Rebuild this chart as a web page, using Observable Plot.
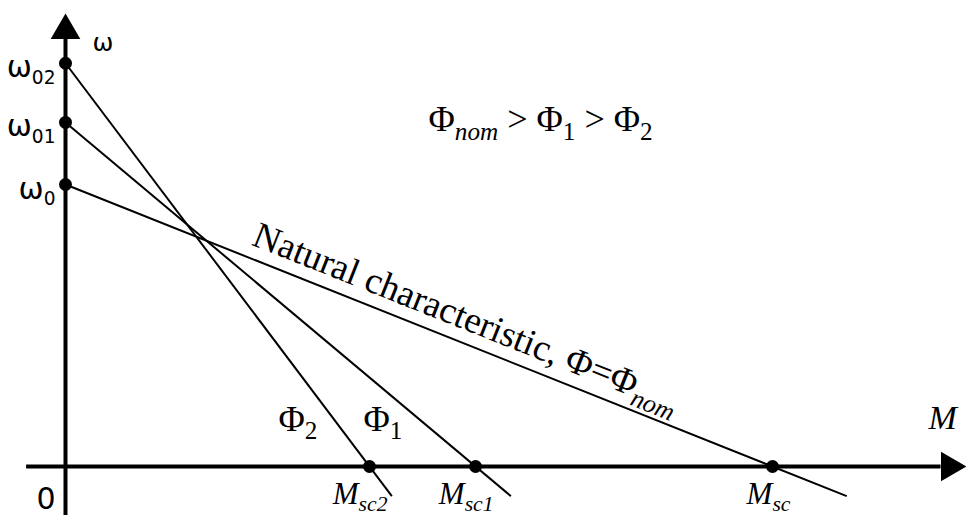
<!DOCTYPE html>
<html>
<head>
<meta charset="utf-8">
<script src="https://cdn.jsdelivr.net/npm/d3@7"></script>
<script src="https://cdn.jsdelivr.net/npm/@observablehq/plot@0.6"></script>
<style>
  html, body { margin: 0; padding: 0; background: #fff; }
  #chart svg { display: block; background: #fff; }
</style>
</head>
<body>
<div id="chart"></div>
<script>
// Mechanical characteristics ω(M) of a DC motor for three field fluxes.
// Markup in labels: _{..} = upright subscript, ~{..} = italic subscript.
const fluxNames    = ["nom", "1", "2"];
const idleSpeeds   = [1.0, 1.22, 1.43];   // ω0, ω01, ω02
const stallTorques = [1.0, 0.58, 0.43];   // Msc, Msc1, Msc2
const speedLabels  = ["ω_{0}", "ω_{01}", "ω_{02}"];
const torqueLabels = ["M~{sc}", "M~{sc1}", "M~{sc2}"];
const curveLabels  = ["Natural characteristic, Φ=Φ~{nom}", "Φ_{1}", "Φ_{2}"];
const relationText = "Φ~{nom} > Φ_{1} > Φ_{2}";

const curves = fluxNames.map((flux, i) => ({
  flux, omega0: idleSpeeds[i], msc: stallTorques[i],
  speedLabel: speedLabels[i], torqueLabel: torqueLabels[i], curveLabel: curveLabels[i]
}));

// pixel frame of the plot (origin and unit points)
const X0 = 65, X1 = 772, Y0 = 466, Y1 = 184;
const slopeAngle = Math.atan((Y0 - Y1) / (X1 - X0)) * 180 / Math.PI;

// how far the lines run below the M axis, and axis extents
const omegaTail = -0.105;
const xAxisFrom = -0.055, xArrow = 1.2504;
const yAxisFrom = -0.18,  yArrow = 1.546;
const xAxisTo = xArrow - 0.012, yAxisTo = yArrow - 0.03;

// point on a characteristic at a given speed
const torqueAt = (c, w) => c.msc * (1 - w / c.omega0);

const serif = "Liberation Serif, Times New Roman, serif";
const sans = "DejaVu Sans, sans-serif";
const labelOmega = 0.17;
const naturalAt = 0.255;

const chart = Plot.plot({
  width: 966,
  height: 515,
  margin: 0,
  x: {domain: [0, 1], range: [X0, X1], axis: null},
  y: {domain: [0, 1], range: [Y0, Y1], axis: null},
  marks: [
    // axes with arrowheads
    Plot.ruleY([0], {x1: xAxisFrom, x2: xAxisTo, stroke: "black", strokeWidth: 4}),
    Plot.ruleX([0], {y1: yAxisFrom, y2: yAxisTo, stroke: "black", strokeWidth: 4}),
    Plot.dot([{x: xArrow, y: 0}], {x: "x", y: "y", symbol: "triangle", r: 11, fill: "black", rotate: 90}),
    Plot.dot([{x: 0, y: yArrow}], {x: "x", y: "y", symbol: "triangle", r: 11, fill: "black"}),

    // characteristics, extended a little below the axis
    Plot.link(curves, {
      x1: 0, y1: "omega0",
      x2: c => torqueAt(c, omegaTail), y2: () => omegaTail,
      stroke: "black", strokeWidth: 2
    }),

    // idle speeds and short-circuit torques
    Plot.dot(curves, {x: 0, y: "omega0", r: 6.5, fill: "black"}),
    Plot.dot(curves, {x: "msc", y: 0, r: 6.5, fill: "black"}),

    // tick-like labels
    Plot.text(curves, {x: 0, y: "omega0", text: "speedLabel", textAnchor: "end", lineAnchor: "bottom",
      dx: -10, dy: 14, fontFamily: sans, fontSize: 30, fill: "black"}),
    Plot.text(curves, {x: "msc", y: 0, text: "torqueLabel", textAnchor: "end", lineAnchor: "bottom",
      dx: 18, dy: 37, fontFamily: serif, fontStyle: "italic", fontSize: 31, fill: "black"}),

    // axis names and origin
    Plot.text(["ω"], {x: 0, y: yArrow, text: d => d, textAnchor: "start", lineAnchor: "bottom",
      dx: 27, dy: 20, fontFamily: sans, fontSize: 25, fill: "black"}),
    Plot.text(["M"], {x: xArrow, y: 0, text: d => d, textAnchor: "middle", lineAnchor: "bottom",
      dx: -7, dy: -38, fontFamily: serif, fontStyle: "italic", fontSize: 34, fill: "black"}),
    Plot.text(["0"], {x: 0, y: 0, text: d => d, textAnchor: "end", lineAnchor: "bottom",
      dx: -10, dy: 42, fontFamily: sans, fontSize: 30, fill: "black"}),

    // curve names
    Plot.text(curves.slice(1), {
      x: c => torqueAt(c, labelOmega), y: () => labelOmega, text: "curveLabel",
      textAnchor: "end", lineAnchor: "bottom", dx: -16, dy: 12,
      fontFamily: serif, fontSize: 36, fill: "black"
    }),
    Plot.text(curves.slice(0, 1), {
      x: c => c.msc * naturalAt, y: c => c.omega0 * (1 - naturalAt), text: "curveLabel",
      textAnchor: "start", lineAnchor: "bottom", rotate: slopeAngle, dx: 4.8, dy: -12,
      fontFamily: serif, fontSize: 37, fill: "black"
    }),

    // flux ordering
    Plot.text([relationText], {x: 0.672, y: 1.188, text: d => d, textAnchor: "middle", lineAnchor: "bottom",
      fontFamily: serif, fontSize: 36, fill: "black"})
  ]
});

// turn the subscript markup into tspans
d3.select(chart).selectAll("text").each(function () {
  const s = this.textContent;
  const re = /([_~])\{([^}]*)\}/g;
  if (!/[_~]\{/.test(s)) return;
  const family = this.closest("g").getAttribute("font-family") || "";
  const scale = family.startsWith("DejaVu") ? 0.62 : 0.7;
  const down = 0.23;                      // drop in units of the main font size
  const el = d3.select(this);
  el.text(null);
  let last = 0, m, lowered = false;
  while ((m = re.exec(s))) {
    if (m.index > last) {
      el.append("tspan").attr("dy", lowered ? `${-down}em` : null).text(s.slice(last, m.index));
      lowered = false;
    }
    el.append("tspan")
      .attr("font-size", `${scale}em`)
      .attr("dy", lowered ? null : `${down / scale}em`)
      .attr("font-style", m[1] === "~" ? "italic" : "normal")
      .text(m[2]);
    lowered = true;
    last = re.lastIndex;
  }
  if (last < s.length) el.append("tspan").attr("dy", lowered ? `${-down}em` : null).text(s.slice(last));
});

document.getElementById("chart").appendChild(chart);
</script>
</body>
</html>
